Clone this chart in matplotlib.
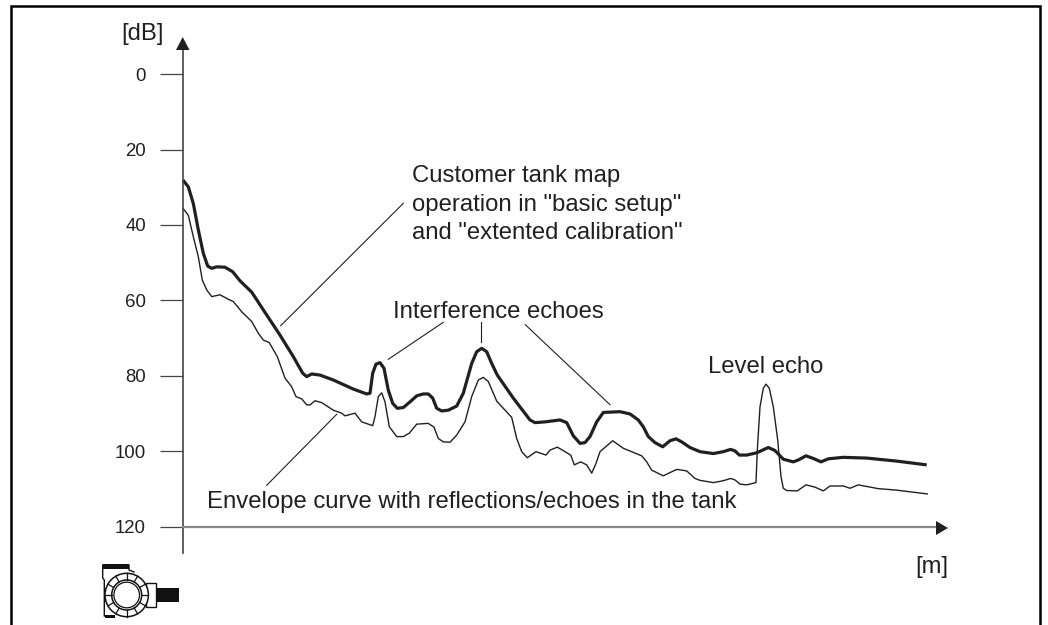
import numpy as np
import matplotlib
matplotlib.use("Agg")
import matplotlib.pyplot as plt
from matplotlib.patches import Circle, Polygon, Rectangle

plt.rcParams['font.family'] = ['Liberation Sans', 'DejaVu Sans']

# -------------------------------
# values (x is distance along the axis, y is dB)
map_x = [0, 5.3, 10.3, 15.3, 20.3, 24.7, 28.7, 33.7, 42, 49.7, 57, 68.7, 80.3, 97, 110.3, 119.7,
         123.7, 128.7, 137, 150.3, 170.3, 183.7, 187, 189.7, 193, 197, 201, 205.3, 209.7, 214.3,
         220.3, 227, 233.7, 240.3, 245.3, 249.7, 253.7, 258.7, 265.3, 273.7, 280.3, 288.7, 293.7,
         298.7, 303.7, 308.7, 314.3, 330.3, 347, 352, 362, 377, 383.7, 390.3, 397, 402, 407, 413.7,
         420.3, 437, 447, 455.3, 460.3, 465.3, 472, 479.7, 487, 493, 498.7, 507, 517, 530.3, 540.3,
         547.7, 552, 556.3, 563.7, 573.7, 585.3, 592, 600.3, 610.3, 615.3, 623, 630.3, 638, 645.3,
         660.3, 683.7, 713.7, 743.7]
map_db = [28.1, 29.9, 34.3, 41.3, 47.5, 50.9, 51.5, 51.1, 51.2, 52.4, 54.8, 57.8, 62.5, 69.2, 74.9, 79.3,
          80.2, 79.5, 79.8, 81.1, 83.5, 84.8, 84.6, 79.3, 76.9, 76.5, 78.0, 83.8, 87.3, 88.6,
          88.4, 86.9, 85.3, 84.8, 84.8, 85.9, 88.6, 89.3, 89.1, 88.0, 84.6, 76.7, 73.6,
          72.7, 73.6, 76.7, 79.8, 85.9, 91.7, 92.4, 92.2, 91.7, 92.4, 95.9, 97.9, 97.7, 96.1, 92.2,
          89.7, 89.5, 90.1, 91.7, 93.5, 96.1, 97.7, 98.8, 97.2, 96.7, 97.5, 99.0, 100.1, 100.6, 100.1,
          99.5, 99.9, 101.0, 101.0, 100.4, 99.0, 99.8, 102.1, 102.8, 102.3, 101.2, 101.9, 102.8, 102.0,
          101.6, 101.8, 102.6, 103.6]

env_x = [0, 5.3, 10.3, 15.3, 19.3, 23.7, 28.7, 37, 45.3, 50.3, 58.7, 68.7, 75.3, 80.3, 86.3, 94.3, 102,
         108.7, 113, 118.7, 123.7, 127, 132, 138.7, 150.3, 158.7, 162, 172, 178.7, 189.7, 192, 195.3,
         198.7, 202, 206.3, 213.7, 220.3, 226.3, 233.7, 245.3, 251, 255.3, 260.3, 267, 273.7, 282,
         288.7, 295.3, 300.3, 305.3, 313.7, 320.3, 328.7, 333.7, 338.7, 344.3, 353, 363, 367, 374.3,
         382, 387.7, 391.3, 397.7, 403.7, 408.7, 413, 417, 429.7, 440.3, 458.7, 463.7, 468.7, 480.3,
         493.7, 503.7, 512, 517, 530.3, 540.3, 547.7, 552, 557, 563.7, 573, 574.3, 577, 580.3, 583,
         586.3, 590.3, 594.7, 598, 600.3, 603.7, 614.3, 623, 632, 640.3, 647, 660.3, 667, 675.3,
         695.3, 713.7, 744.3]
env_db = [35.6, 37.4, 43.1, 48.4, 54.6, 57.2, 59.0, 58.5, 59.7, 60.3, 63.0, 65.6, 68.7, 70.5, 71.2, 74.9, 80.6,
          82.9, 85.5, 86.1, 87.7, 87.7, 86.6, 87.1, 89.1, 89.9, 90.6, 89.9, 92.2, 93.2, 90.8, 85.5,
          84.5, 86.9, 93.5, 96.1, 96.1, 95.2, 92.8, 92.6, 93.6, 96.6, 97.5, 97.6, 95.7, 92.2,
          85.5, 81.1, 80.4, 81.5, 86.7, 88.6, 91.0, 96.6, 100.1, 101.7, 100.1, 101.0, 99.7, 98.9,
          100.1, 101.0, 103.6, 102.8, 103.6, 105.8, 103.2, 100.1, 97.2, 99.2, 101.2, 102.8, 105.0, 106.5,
          104.8, 105.2, 107.2, 107.7, 108.3, 107.8, 107.2, 107.6, 108.7, 108.9, 108.3, 99.7, 88.2, 83.3, 82.2,
          83.3, 88.2, 97.0, 106.7, 109.8, 110.4, 110.5, 108.9, 109.5, 110.5, 109.2, 109.2, 109.8, 108.9,
          109.9, 110.3, 111.3]

y_ticks = [0, 20, 40, 60, 80, 100, 120]

text_color = "#231f20"

# -------------------------------
# main axes fill the figure so the curves line up with the picture
fig = plt.figure(figsize=(10.48, 6.25), dpi=100)
ax = fig.add_axes([0, 0, 1, 1])
ax.set_xlim(-183, 865)
ax.set_ylim(146.05, -19.64)

ax.plot(env_x, env_db, color=text_color, lw=1.0, solid_joinstyle='round')
ax.plot(map_x, map_db, color=text_color, lw=2.3, solid_joinstyle='round', solid_capstyle='butt')

for side in ['top', 'right']:
    ax.spines[side].set_visible(False)
ax.spines['left'].set_position(('data', 0))
ax.spines['left'].set_bounds(-6.4, 127)
ax.spines['left'].set_color("#444444")
ax.spines['left'].set_linewidth(1.2)
ax.spines['bottom'].set_position(('data', 120))
ax.spines['bottom'].set_bounds(0, 753)
ax.spines['bottom'].set_color("#888888")
ax.spines['bottom'].set_linewidth(1.6)
ax.set_xticks([])
ax.set_yticks(y_ticks)
ax.tick_params(axis='y', length=16.6, width=0.9, color="#444444", pad=10,
               labelsize=13.4, labelcolor=text_color)

# -------------------------------
# overlay in pixel coordinates for frame, arrows, labels and the device
ov = fig.add_axes([0, 0, 1, 1])
ov.set_xlim(0, 1048)
ov.set_ylim(625, 0)
ov.axis('off')
ov.patch.set_alpha(0)

# frame, open at the bottom
ov.plot([11, 11, 1040, 1040], [625, 6, 6, 625], color="black", lw=1.8, solid_joinstyle='miter')

# arrow heads
ov.add_patch(Polygon([[176, 50], [189.5, 50], [182.7, 37]], color=text_color, lw=0))
ov.add_patch(Polygon([[936, 521], [936, 535], [948, 528]], color=text_color, lw=0))

# leader lines
leaders = [
    ([403.3, 280.7], [203.3, 325.7]),
    ([443.3, 388.3], [322.3, 359.3]),
    ([480.7, 480.7], [321.7, 341.7]),
    ([525.3, 610], [324.7, 404.7]),
    ([336.7, 266.7], [414.3, 485.3]),
]
for lx, ly in leaders:
    ov.plot(lx, ly, color=text_color, lw=0.8)

labels = [
    (411.7, 182.3, 'Customer tank map'),
    (411.7, 210.7, 'operation in "basic setup"'),
    (411.7, 239.3, 'and "extented calibration"'),
    (393.3, 317.7, 'Interference echoes'),
    (707.5, 373, 'Level echo'),
    (207.3, 507.7, 'Envelope curve with reflections/echoes in the tank'),
    (121, 40, '[dB]'),
    (915, 573, '[m]'),
]
for tx, ty, s in labels:
    ov.text(tx, ty, s, fontsize=17.2, color=text_color, va='baseline', ha='left')

# device symbol
ov.add_patch(Rectangle((156, 587.7), 23.3, 14, color="#111111", lw=0))
ov.add_patch(Rectangle((146, 583), 10, 24, fc="white", ec="#111111", lw=1.0))
ov.plot([104.3, 104.3, 102.7, 102.7, 129, 129, 134], [616, 580, 578, 565, 565, 570, 572], color="#111111", lw=1.0)
ov.add_patch(Rectangle((102.7, 563.5), 26.6, 5, color="#111111", lw=0))
ov.add_patch(Rectangle((105, 615), 10, 2.5, color="#111111", lw=0))
cx, cy = 126.7, 595
ov.add_patch(Circle((cx, cy), 21.7, fc="white", ec="#111111", lw=1.1))
ov.add_patch(Circle((cx, cy), 15.0, fc="white", ec="#111111", lw=1.1))
ov.add_patch(Circle((cx, cy), 12.8, fc="white", ec="#111111", lw=0.9))
for a in np.deg2rad(np.arange(0, 360, 30)):
    ov.plot([cx + 15 * np.cos(a), cx + 21.7 * np.cos(a)], [cy + 15 * np.sin(a), cy + 21.7 * np.sin(a)],
            color="#111111", lw=0.9)

fig.savefig("out.png", dpi=100, facecolor="white")
